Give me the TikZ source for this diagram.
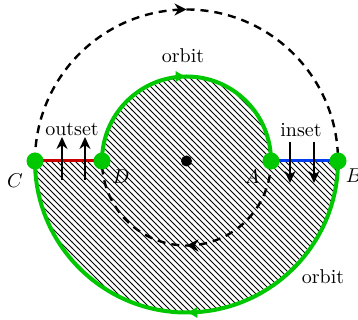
\documentclass[tikz,border=0pt]{standalone}
\usetikzlibrary{patterns,arrows.meta,decorations.markings}
\definecolor{orbgreen}{RGB}{0,200,0}
\definecolor{insetblue}{RGB}{0,60,240}
\definecolor{outsetred}{RGB}{200,0,0}
\tikzset{
  greenline/.style={draw=orbgreen,line width=2pt},
  dashline/.style={draw=black,line width=1.2pt,dash pattern=on 4pt off 3pt},
  midarrow/.style={postaction={decorate,decoration={markings,
     mark=at position 0.5 with {\arrow{#1}}}}},
  gdot/.style={circle,fill=orbgreen,inner sep=0pt,minimum size=8.5pt},
  bdot/.style={circle,fill=black,inner sep=0pt,minimum size=5.5pt},
  flux/.style={-{Stealth[length=6pt,width=5.5pt]},line width=1pt},
  lbl/.style={inner sep=0pt}
}
\begin{document}
\begin{tikzpicture}[x=0.5pt,y=0.5pt]
\useasboundingbox (0,0) rectangle (358,320);
\coordinate (O) at (186.5,159);
\coordinate (C) at (35,159);
\coordinate (D) at (102,159);
\coordinate (A) at (271,159);
\coordinate (B) at (338,159);
% hatched region
\fill[pattern=north west lines] (C) -- (D) arc[start angle=180,end angle=0,radius=84.5]
   -- (B) arc[start angle=0,end angle=-180,radius=151.5] -- cycle;
% dashed orbit
\draw[dashline,midarrow={Stealth[length=6pt,width=6pt]}] (C) arc[start angle=180,end angle=0,radius=151.5];
\draw[dashline,midarrow={Stealth[length=6pt,width=6pt]}] (A) arc[start angle=0,end angle=-180,radius=84.5];
% outset / inset segments
\draw[outsetred,line width=1.5pt] (C) -- (D);
\draw[insetblue,line width=1.5pt] (A) -- (B);
% green orbit
\draw[greenline,midarrow={Latex[length=5.5pt,width=6pt,color=orbgreen]}] (D) arc[start angle=180,end angle=0,radius=84.5];
\draw[greenline,midarrow={Latex[length=5.5pt,width=6pt,color=orbgreen]}] (B) arc[start angle=0,end angle=-180,radius=151.5];
% flux arrows
\coordinate (o1s) at (62,140); \coordinate (o1e) at (62,183);
\coordinate (o2s) at (85,140); \coordinate (o2e) at (85,183);
\coordinate (i1s) at (290,178); \coordinate (i1e) at (290,137);
\coordinate (i2s) at (314,178); \coordinate (i2e) at (314,137);
\draw[flux] (o1s) -- (o1e);
\draw[flux] (o2s) -- (o2e);
\draw[flux] (i1s) -- (i1e);
\draw[flux] (i2s) -- (i2e);
% dots
\node[gdot] (Cd) at (C) {};
\node[gdot] (Dd) at (D) {};
\node[gdot] (Ad) at (A) {};
\node[gdot] (Bd) at (B) {};
\node[bdot] (Od) at (O) {};
% labels
\node[lbl] (orbtop) at (183,264) {orbit};
\node[lbl] (orbbot) at (323,43) {orbit};
\node[lbl] (outs) at (72,191) {outset};
\node[lbl] (ins) at (301,190) {inset};
\node[lbl] (Cl) at (15,139) {$C$};
\node[lbl] (Dl) at (121,143) {$D$};
\node[lbl] (Al) at (252,143) {$A$};
\node[lbl] (Bl) at (354,144) {$B$};
\end{tikzpicture}
\end{document}
